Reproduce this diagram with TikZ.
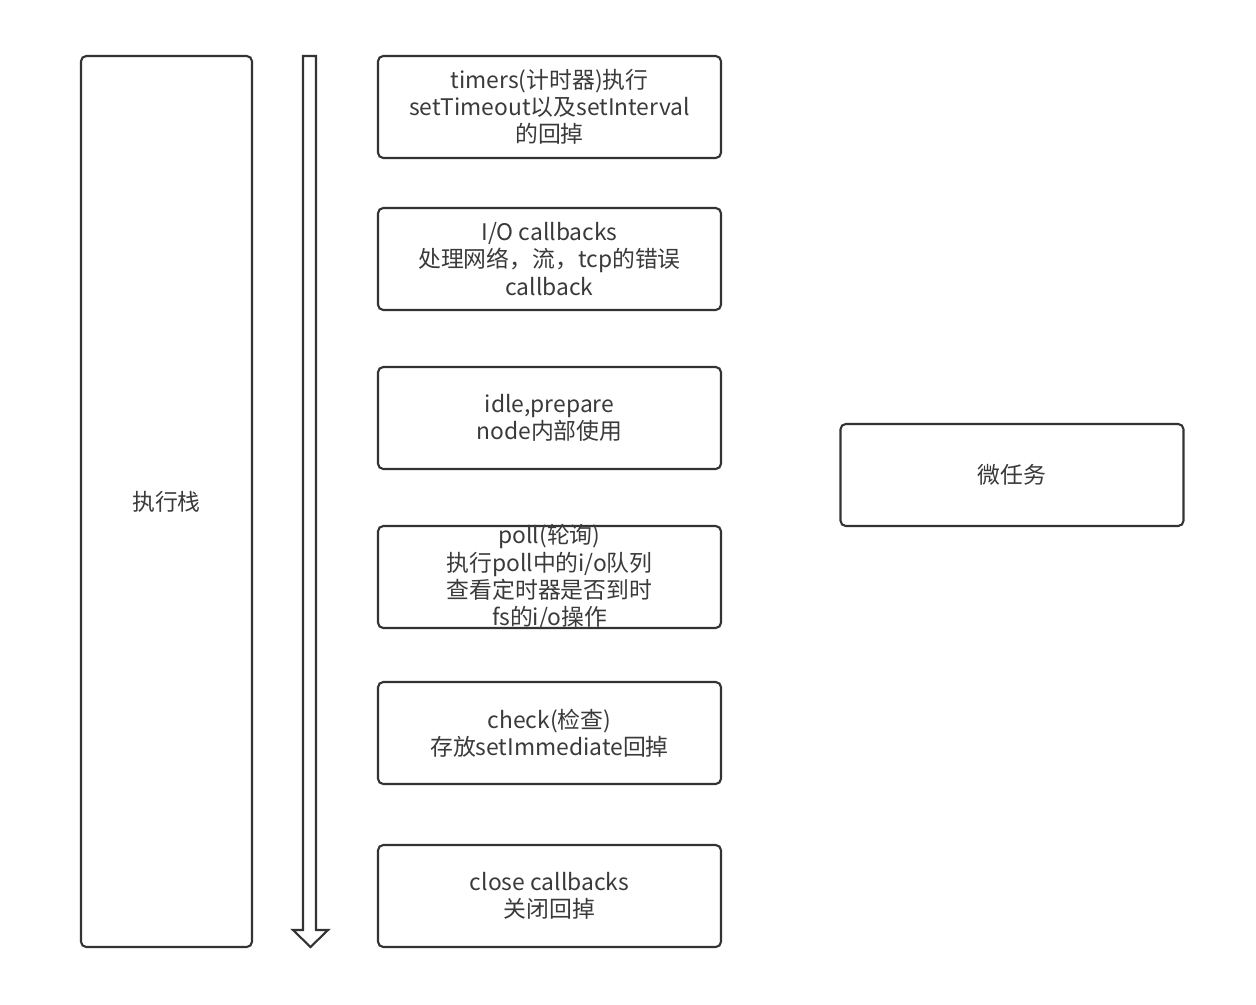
\documentclass[tikz,border=0pt]{standalone}
\usepackage{fontspec}
\setmainfont{Noto Sans CJK SC}
\usetikzlibrary{positioning, calc}
\definecolor{linegrey}{HTML}{333333}
\definecolor{textgrey}{HTML}{3A3A3A}

\begin{document}
\begin{tikzpicture}[
    x=0.02cm, y=-0.02cm,
    phase/.style={draw=linegrey, line width=1.2pt, rounded corners=3pt, rectangle, minimum width=343*0.02cm, minimum height=102*0.02cm, inner sep=0pt, outer sep=0pt},
    stackbox/.style={draw=linegrey, line width=1.2pt, rounded corners=3pt, rectangle, minimum width=171*0.02cm, minimum height=891*0.02cm, inner sep=0pt, outer sep=0pt},
    phasetext/.style={align=center, text=textgrey, font=\fontsize{13}{15.4}\selectfont},
    flow/.style={draw=linegrey, line width=1.2pt, fill=white, line join=miter}
]
\useasboundingbox (0,0) rectangle (1256,1004);

% --- KNOTEN ---
% Ausführungsstapel links
\node[stackbox] (stack) at (166.5,501.5) {};
\node[phasetext] at (stack.center) {执行栈};

% Phasen der Event-Loop
\node[phase] (timers) at (549.5,107) {};
\node[phase, below=50*0.02cm of timers] (io) {};
\node[phase, below=57*0.02cm of io] (idle) {};
\node[phase, below=57*0.02cm of idle] (poll) {};
\node[phase, below=54*0.02cm of poll] (check) {};
\node[phase, below=61*0.02cm of check] (close) {};

\node[phasetext] at (timers.center) {timers(计时器)执行\\setTimeout以及setInterval\\的回掉};
\node[phasetext] at (io.center) {I/O callbacks\\处理网络，流，tcp的错误\\callback};
\node[phasetext] at (idle.center) {idle,prepare\\node内部使用};
\node[phasetext] at (poll.center) {poll(轮询)\\执行poll中的i/o队列\\查看定时器是否到时\\fs的i/o操作};
\node[phasetext] at (check.center) {check(检查)\\存放setImmediate回掉};
\node[phasetext] at (close.center) {close callbacks\\关闭回掉};

% Mikrotasks rechts
\node[phase] (micro) at (1012,475) {};
\node[phasetext] at (micro.center) {微任务};

% Koordinaten für den Hohlpfeil
\coordinate (arrtop) at (309.5,56);
\coordinate (arrtip) at (310.5,947);

% --- KANTEN ---
% Hohlpfeil nach unten
\draw[flow] ($(arrtop)+(-6.5,0)$) -- ($(arrtip)+(-7.5,-17)$) -- ($(arrtip)+(-17.5,-17)$)
    -- (arrtip) -- ($(arrtip)+(17.5,-17)$) -- ($(arrtip)+(5.5,-17)$)
    -- ($(arrtop)+(6.5,0)$) -- cycle;

\end{tikzpicture}
\end{document}
